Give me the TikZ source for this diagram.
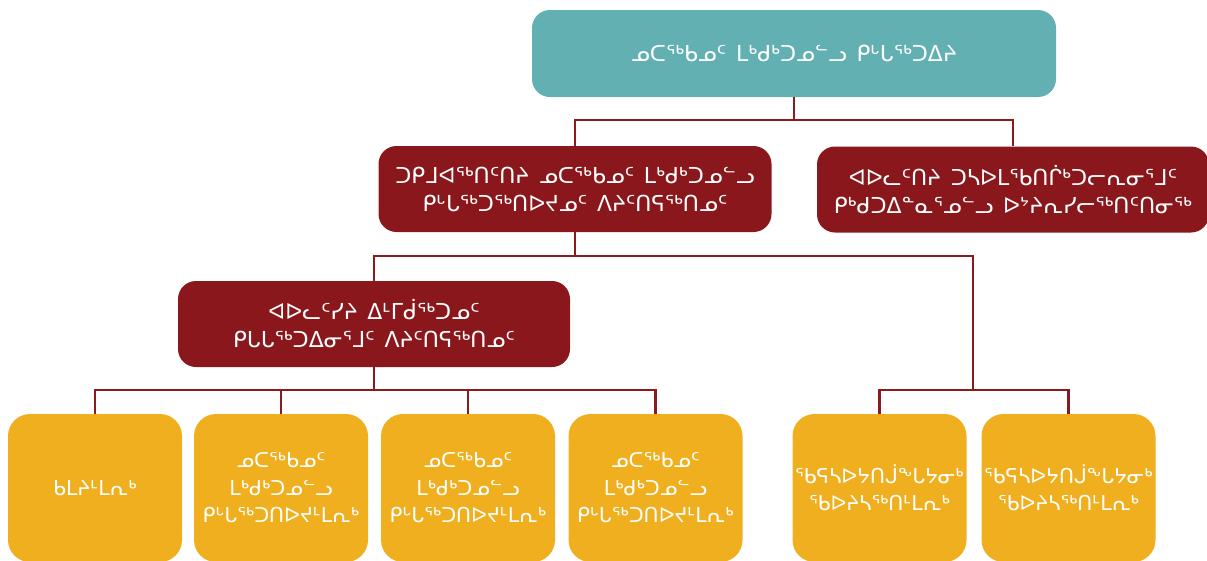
\documentclass[tikz,border=0pt]{standalone}
\usepackage{fontspec}
\setmainfont[WordSpace=1.4]{DejaVu Sans}
\definecolor{tealbox}{HTML}{62B0B1}
\definecolor{redbox}{HTML}{8A171B}
\definecolor{yellowbox}{HTML}{F0AF1F}
\definecolor{linecol}{HTML}{8B1A1D}
\begin{document}
\begin{tikzpicture}[x=1pt,y=-1pt,
  box/.style={rounded corners=18pt, text=white, align=center, inner sep=0pt,
    font=\fontsize{22}{28}\selectfont},
  topbox/.style={box, fill=tealbox, minimum width=524pt, minimum height=87pt},
  redb/.style={box, fill=redbox, minimum width=393pt, minimum height=86pt},
  leaf/.style={box, fill=yellowbox, rounded corners=22pt, minimum width=174pt, minimum height=148pt,
    font=\fontsize{20.5}{27.5}\selectfont},
  conn/.style={draw=linecol, line width=2.4pt}]
\useasboundingbox (0,0) rectangle (1207,560);

\node[topbox] (top) at (794,53.5) {ᓄᑕᖅᑲᓄᑦ ᒪᒃᑯᒃᑐᓄᓪᓗ ᑭᒡᒐᖅᑐᐃᔨ};
\node[redb] (l2a) at (575,189) {ᑐᑭᒧᐊᖅᑎᑦᑎᔨ ᓄᑕᖅᑲᓄᑦ ᒪᒃᑯᒃᑐᓄᓪᓗ\\ᑭᒡᒐᖅᑐᖅᑎᐅᔪᓄᑦ ᐱᔨᑦᑎᕋᖅᑎᓄᑦ};
\node[redb, minimum width=392pt] (l2b) at (1013,189.5) {ᐊᐅᓚᑦᑎᔨ ᑐᓴᐅᒪᖃᑎᒌᒃᑐᓕᕆᓂᕐᒧᑦ\\ᑭᒃᑯᑐᐃᓐᓇᕐᓄᓪᓗ ᐅᔾᔨᕆᓯᓕᖅᑎᑦᑎᓂᖅ};
\node[redb, minimum width=392pt] (l3) at (374,324) {ᐊᐅᓚᑦᓯᔨ ᐃᒻᒥᑰᖅᑐᓄᑦ\\ᑭᒐᒐᖅᑐᐃᓂᕐᒧᑦ ᐱᔨᑦᑎᕋᖅᑎᓄᑦ};

\node[leaf] (b1) at (95,488) {ᑲᒪᔨᒻᒪᕆᒃ};
\node[leaf] (b2) at (281,488) {ᓄᑕᖅᑲᓄᑦ\\ᒪᒃᑯᒃᑐᓄᓪᓗ\\ᑭᒡᒐᖅᑐᑎᐅᔪᒻᒪᕆᒃ};
\node[leaf] (b3) at (468,488) {ᓄᑕᖅᑲᓄᑦ\\ᒪᒃᑯᒃᑐᓄᓪᓗ\\ᑭᒡᒐᖅᑐᑎᐅᔪᒻᒪᕆᒃ};
\node[leaf] (b4) at (655.5,488) {ᓄᑕᖅᑲᓄᑦ\\ᒪᒃᑯᒃᑐᓄᓪᓗ\\ᑭᒡᒐᖅᑐᑎᐅᔪᒻᒪᕆᒃ};
\node[leaf] (b5) at (879.5,488) {ᖃᕋᓴᐅᔭᑎᒎᖕᒐᔭᓂᒃ\\ᖃᐅᔨᓴᖅᑎᒻᒪᕆᒃ};
\node[leaf] (b6) at (1068.5,488) {ᖃᕋᓴᐅᔭᑎᒎᖕᒐᔭᓂᒃ\\ᖃᐅᔨᓴᖅᑎᒻᒪᕆᒃ};

\coordinate (j2) at (973,390);
\draw[conn] (top.south) -- ++(0,23) -| (l2a.north);
\draw[conn] (top.south) -- ++(0,23) -| (l2b.north);
\draw[conn] (l2a.south) -- ++(0,24) -| (l3.north);
\draw[conn] (l2a.south) -- ++(0,24) -| (j2);
\draw[conn] (j2) -| (b5.north);
\draw[conn] (j2) -| (b6.north);
\draw[conn] (l3.south) -- ++(0,23) -| (b1.north);
\draw[conn] (l3.south) -- ++(0,23) -| (b2.north);
\draw[conn] (l3.south) -- ++(0,23) -| (b3.north);
\draw[conn] (l3.south) -- ++(0,23) -| (b4.north);
\end{tikzpicture}
\end{document}
